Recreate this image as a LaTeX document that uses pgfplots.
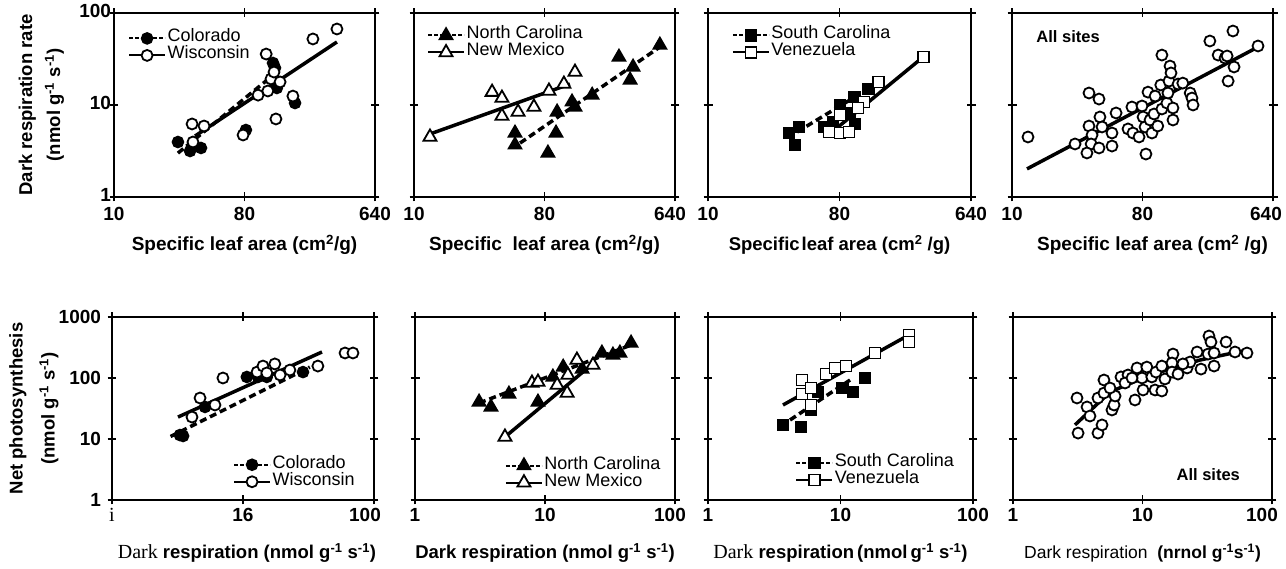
\documentclass[border=0pt]{standalone}
\usepackage{fontspec}
\usepackage{graphicx}
\usepackage{pgfplots}
\pgfplotsset{compat=1.18}
\setmainfont{Liberation Sans}
\newfontfamily\serifrm{Liberation Serif}
\newcommand\fs[1]{\fontsize{#1}{#1}\selectfont}
\newcommand\sps[1]{\textsuperscript{#1}}

% legend sample: a short line with the mark in its middle
\pgfplotsset{
  legend image code/.code={\draw[mark repeat=2, mark phase=2, #1]
      plot coordinates {(0pt,0pt) (18pt,0pt) (36pt,0pt)};},
}
\tikzset{
  fitsolid/.style={black, line width=3.5pt},
  fitdash/.style={black, line width=3.5pt, dash pattern=on 7pt off 4pt},
  legdash/.style={black, line width=2pt, dash pattern=on 4pt off 2pt},
  legsolid/.style={black, line width=2pt},
  mfill/.style={draw=black, fill=black, line width=1.6pt, solid},
  mopen/.style={draw=black, fill=white, line width=1.8pt, solid},
  legbox/.style={draw=none, fill=none, inner sep=0pt, outer sep=0pt, row sep=0pt,
    column sep=1.5pt, font=\fs{18}, nodes={inner sep=0pt, text height=12pt, text depth=5pt}},
}

\begin{document}
\begin{tikzpicture}
\useasboundingbox (0,0) rectangle (1286pt,569pt);
\fill[white] (0,0) rectangle (1286pt,569pt);

% ================= top row: respiration vs specific leaf area =================
\begin{axis}[at={(114pt,372pt)}, anchor=south west, scale only axis,
  width=261pt, height=184pt, clip=false,
  xmode=log, ymode=log, xmin=10, xmax=640, ymin=1, ymax=100,
  xminorticks=false, yminorticks=false,
  xtick={10,80,640}, xticklabels={10,80,640},
  ytick={1,10,100}, yticklabels={1,10,100},
  axis line style={line width=2pt},
  tick style={black, line width=1.6pt}, major tick length=9pt, tick align=center,
  ticklabel style={font=\fs{19}\bfseries},
  xticklabel style={yshift=-2pt},
  yticklabel style={xshift=5pt, yshift=2pt},
  ylabel={Dark respiration rate\\(nmol g\sps{-1} s\sps{-1})},
  ylabel style={at={(axis description cs:-0.278,0.5)}, anchor=center,
    align=center, font=\fontsize{18.5}{28}\selectfont\bfseries},
  xlabel={Specific leaf area (cm\sps{2}/g)},
  xlabel style={at={(axis description cs:0.5,-0.262)}, anchor=center, font=\fs{19}\bfseries},
  legend style={legbox, at={(axis description cs:0.054,0.908)}, anchor=north west},
  legend cell align=left]
\addlegendimage{legdash, mark=*, mark size=5.5pt, mark options={mfill}}
\addlegendentry{Colorado}
\addlegendimage{legsolid, mark=*, mark size=5.5pt, mark options={mopen}}
\addlegendentry{Wisconsin}
\addplot[fitdash, no marks, forget plot] coordinates {(27.7,3.0) (134,22.8)};
\addplot[fitsolid, no marks, forget plot] coordinates {(36.4,4.6) (349,48.4)};
\addplot[only marks, mark=*, mark size=5.5pt, mark options={mfill}, forget plot] coordinates {
 (27.7,3.96) (33.6,3.16) (40.0,3.41) (81.8,5.35) (126,28.6) (130,25.3) (134,15.3) (179,10.5)};
\addplot[only marks, mark=*, mark size=5.5pt, mark options={mopen}, forget plot] coordinates {
 (34.7,6.22) (42.0,5.91) (35.2,3.96) (78.2,4.72) (99.3,12.8) (116,14.2) (113,35.8)
 (122,19.2) (128,22.8) (141,17.8) (132,7.05) (173,12.5) (238,52.2) (349,67.0)};
\end{axis}

\begin{axis}[at={(414pt,372pt)}, anchor=south west, scale only axis,
  width=261pt, height=184pt, clip=false,
  xmode=log, ymode=log, xmin=10, xmax=640, ymin=1, ymax=100,
  xminorticks=false, yminorticks=false,
  xtick={10,80,640}, xticklabels={10,80,{\hspace*{-10pt}640}},
  ytick={1,10,100}, yticklabels={},
  axis line style={line width=2pt},
  tick style={black, line width=1.6pt}, major tick length=9pt, tick align=center,
  ticklabel style={font=\fs{19}\bfseries},
  xticklabel style={yshift=-2pt},
  xlabel={Specific\ \ leaf area (cm\sps{2}/g)},
  xlabel style={at={(axis description cs:0.5,-0.262)}, anchor=center, font=\fs{19}\bfseries},
  legend style={legbox, at={(axis description cs:0.05,0.924)}, anchor=north west},
  legend cell align=left]
\addlegendimage{legdash, mark=triangle*, mark size=7.5pt, mark options={mfill}}
\addlegendentry{North Carolina}
\addlegendimage{legsolid, mark=triangle*, mark size=7.5pt, mark options={mopen}}
\addlegendentry{New Mexico}
\addplot[fitsolid, no marks, forget plot] coordinates {(12.9,4.84) (120,16.9)};
\addplot[fitdash, no marks, forget plot] coordinates {(54.2,3.86) (503,42.7)};
\addplot[only marks, mark=triangle*, mark size=7.5pt, mark options={mopen}, forget plot] coordinates {
 (12.9,4.49) (34.7,13.8) (40.6,11.9) (40.6,7.59) (52.5,8.40) (67.6,9.51) (85.9,14.2)
 (109,16.9) (130,22.8)};
\addplot[only marks, mark=triangle*, mark size=7.5pt, mark options={mfill}, forget plot] coordinates {
 (50.0,4.96) (50.0,3.68) (84.5,3.01) (96.1,4.96) (97.8,8.40) (124,10.8) (130,9.51)
 (171,12.8) (262,33.2) (328,25.9) (313,18.7) (503,44.9)};
\end{axis}

\begin{axis}[at={(708pt,372pt)}, anchor=south west, scale only axis,
  width=263pt, height=184pt, clip=false,
  xmode=log, ymode=log, xmin=10, xmax=640, ymin=1, ymax=100,
  xminorticks=false, yminorticks=false,
  xtick={10,80,640}, xticklabels={10,80,640},
  ytick={1,10,100}, yticklabels={},
  axis line style={line width=2pt},
  tick style={black, line width=1.6pt}, major tick length=9pt, tick align=center,
  ticklabel style={font=\fs{19}\bfseries},
  xticklabel style={yshift=-2pt},
  xlabel={Specific\hspace{2pt}leaf area (cm\sps{2} /g)},
  xlabel style={at={(axis description cs:0.5,-0.262)}, anchor=center, font=\fs{18.5}\bfseries},
  legend style={legbox, at={(axis description cs:0.091,0.924)}, anchor=north west},
  legend cell align=left]
\addlegendimage{legdash, mark=square*, mark size=5.5pt, mark options={mfill}}
\addlegendentry{South Carolina}
\addlegendimage{legsolid, mark=square*, mark size=5.5pt, mark options={mopen}}
\addlegendentry{Venezuela}
\addplot[fitdash, no marks, forget plot] coordinates {(40.9,5.09) (136,16.1)};
\addplot[fitsolid, no marks, forget plot] coordinates {(71.1,5.09) (300,33.2)};
\addplot[only marks, mark=square*, mark size=5.5pt, mark options={mfill}, forget plot] coordinates {
 (35.9,4.96) (42.2,5.77) (39.7,3.68) (62.7,5.77) (80.7,10.0) (101,12.2) (102,6.22)
 (126,14.9) (94.4,8.19) (72.1,6.54)};
\addplot[only marks, mark=square*, mark size=5.5pt, mark options={mopen}, forget plot] coordinates {
 (300,33.2) (149,17.8) (118,10.8) (107,9.28) (80.7,7.79) (67.7,5.09) (80.7,4.96) (92.9,5.09)};
\end{axis}

\begin{axis}[at={(1012pt,372pt)}, anchor=south west, scale only axis,
  width=261pt, height=184pt, clip=false,
  xmode=log, ymode=log, xmin=10, xmax=640, ymin=1, ymax=100,
  xminorticks=false, yminorticks=false,
  xtick={10,80,640}, xticklabels={10,80,{\hspace*{-14pt}640}},
  ytick={1,10,100}, yticklabels={},
  axis line style={line width=2pt},
  tick style={black, line width=1.6pt}, major tick length=9pt, tick align=center,
  ticklabel style={font=\fs{19}\bfseries},
  xticklabel style={yshift=-2pt},
  xlabel={Specific leaf area (cm\sps{2} /g)},
  xlabel style={at={(axis description cs:0.5,-0.262)}, anchor=center, xshift=10pt,
    font=\fs{19}\bfseries}]
\node[anchor=west, font=\fs{16.5}\bfseries] at (axis description cs:0.08,0.87) {All sites};
\addplot[fitsolid, no marks] coordinates {(12.7,2.02) (504,42.7)};
\addplot[only marks, mark=*, mark size=5.5pt, mark options={mopen}] coordinates {
 (12.9,4.49) (27.3,3.77) (34.1,13.5) (40.0,11.6) (34.1,5.91) (40.6,7.41) (42.0,5.77)
 (35.8,4.72) (35.3,3.77) (33.0,3.01) (40.0,3.41) (49.2,4.96) (49.2,3.58) (52.5,8.19)
 (63.5,5.49) (67.6,9.51) (68.7,4.96) (75.7,4.49) (79.4,9.75) (80.7,7.41) (83.3,5.77)
 (87.3,13.8) (84.5,2.93) (93.0,4.96) (90.2,6.87) (102,5.91) (96.1,7.98) (97.8,12.5)
 (109,9.05) (107,16.5) (109,34.9) (118,10.5) (120,13.5) (122,18.2) (124,26.5)
 (126,22.3) (130,6.87) (130,9.28) (141,16.9) (152,17.3) (171,13.5) (176,11.9)
 (179,10.0) (234,49.6) (267,34.9) (298,32.4) (313,18.2) (308,34.1) (338,63.7)
 (344,25.9) (504,43.8)};
\end{axis}

% ================= bottom row: photosynthesis vs respiration =================
\begin{axis}[at={(112pt,69pt)}, anchor=south west, scale only axis,
  width=262pt, height=183pt, clip=false,
  xmode=log, ymode=log, xmin=1, xmax=100, ymin=1, ymax=1000,
  xminorticks=false, yminorticks=false,
  xtick={1,10,100}, xticklabels={{\serifrm\mdseries\fs{20}i},16,{\hspace*{-18pt}100}},
  ytick={1,10,100,1000}, yticklabels={1,10,100,1000},
  axis line style={line width=2pt},
  tick style={black, line width=1.6pt}, major tick length=9pt, tick align=center,
  ticklabel style={font=\fs{19}\bfseries},
  yticklabel style={xshift=-3pt},
  ylabel={Net photosynthesis\\(nmol g\sps{-1} s\sps{-1})},
  ylabel style={at={(axis description cs:-0.298,0.5)}, anchor=center,
    align=center, font=\fontsize{18.5}{32}\selectfont\bfseries},
  xlabel={{\serifrm\fs{20}Dark} \textbf{respiration (nmol g\sps{-1} s\sps{-1})}},
  xlabel style={at={(axis description cs:0.5,-0.29)}, anchor=center, xshift=4pt, font=\fs{18.5}},
  legend style={legbox, at={(axis description cs:0.462,0.239)}, anchor=north west},
  legend cell align=left]
\addlegendimage{legdash, mark=*, mark size=5.5pt, mark options={mfill}}
\addlegendentry{Colorado}
\addlegendimage{legsolid, mark=*, mark size=5.5pt, mark options={mopen}}
\addlegendentry{Wisconsin}
\addplot[fitdash, no marks, forget plot] coordinates {(2.8,11.0) (32.4,151)};
\addplot[fitsolid, no marks, forget plot] coordinates {(3.19,22.9) (40.1,267)};
\addplot[only marks, mark=*, mark size=5.5pt, mark options={mfill}, forget plot] coordinates {
 (3.30,11.6) (3.49,11.2) (5.13,33.5) (10.7,104) (13.0,104) (15.2,104) (28.7,125)};
\addplot[only marks, mark=*, mark size=5.5pt, mark options={mopen}, forget plot] coordinates {
 (4.08,22.9) (4.70,47.0) (6.11,36.1) (7.03,100) (12.8,125) (14.2,157) (17.5,170)
 (15.2,121) (19.2,112) (22.8,135) (37.3,157) (60.1,257) (69.1,257)};
\end{axis}

\begin{axis}[at={(415pt,69pt)}, anchor=south west, scale only axis,
  width=260pt, height=183pt, clip=false,
  xmode=log, ymode=log, xmin=1, xmax=100, ymin=1, ymax=1000,
  xminorticks=false, yminorticks=false,
  xtick={1,10,100}, xticklabels={1,10,{\hspace*{-10pt}100}},
  ytick={1,10,100,1000}, yticklabels={},
  axis line style={line width=2pt},
  tick style={black, line width=1.6pt}, major tick length=9pt, tick align=center,
  ticklabel style={font=\fs{19}\bfseries},
  xlabel={Dark respiration (nmol g\sps{-1} s\sps{-1})},
  xlabel style={at={(axis description cs:0.5,-0.29)}, anchor=center, font=\fs{18.5}\bfseries},
  legend style={legbox, at={(axis description cs:0.346,0.234)}, anchor=north west},
  legend cell align=left]
\addlegendimage{legdash, mark=triangle*, mark size=7.5pt, mark options={mfill}}
\addlegendentry{North Carolina}
\addlegendimage{legsolid, mark=triangle*, mark size=7.5pt, mark options={mopen}}
\addlegendentry{New Mexico}
\addplot[fitdash, no marks, forget plot] coordinates {(3.11,38.9) (45.9,347)};
\addplot[fitsolid, no marks, forget plot] coordinates {(4.92,10.8) (24.2,183)};
\addplot[only marks, mark=triangle*, mark size=7.5pt, mark options={mfill}, forget plot] coordinates {
 (3.11,40.4) (3.84,33.5) (5.28,54.7) (8.83,40.4) (11.5,104) (13.8,151) (19.3,140)
 (27.4,257) (33.3,238) (37.7,257) (45.9,375)};
\addplot[only marks, mark=triangle*, mark size=7.5pt, mark options={mopen}, forget plot] coordinates {
 (4.92,10.8) (7.94,82.8) (8.83,85.9) (12.4,76.7) (14.8,56.7) (15.0,112) (17.6,197) (23.4,163)};
\end{axis}

\begin{axis}[at={(708pt,69pt)}, anchor=south west, scale only axis,
  width=265pt, height=183pt, clip=false,
  xmode=log, ymode=log, xmin=1, xmax=100, ymin=1, ymax=1000,
  xminorticks=false, yminorticks=false,
  xtick={1,10,100}, xticklabels={1,10,100},
  ytick={1,10,100,1000}, yticklabels={},
  axis line style={line width=2pt},
  tick style={black, line width=1.6pt}, major tick length=9pt, tick align=center,
  ticklabel style={font=\fs{19}\bfseries},
  xlabel={{\serifrm\fs{20}Dark} \textbf{respiration\,(nmol\,g\sps{-1} s\sps{-1})}},
  xlabel style={at={(axis description cs:0.5,-0.29)}, anchor=center, font=\fs{18.5}},
  legend style={legbox, at={(axis description cs:0.33,0.249)}, anchor=north west},
  legend cell align=left]
\addlegendimage{legdash, mark=square*, mark size=5.5pt, mark options={mfill}}
\addlegendentry{South Carolina}
\addlegendimage{legsolid, mark=square*, mark size=5.5pt, mark options={mopen}}
\addlegendentry{Venezuela}
\addplot[fitsolid, no marks, forget plot] coordinates {(3.68,36.1) (31.8,488)};
\addplot[fitdash, no marks, forget plot] coordinates {(4.16,20.5) (11.8,92.7)};
\addplot[only marks, mark=square*, mark size=5.5pt, mark options={mfill}, forget plot] coordinates {
 (3.68,17.0) (5.03,15.7) (5.99,29.9) (6.76,58.9) (10.3,68.5) (12.4,58.9) (15.3,100)};
\addplot[only marks, mark=square*, mark size=5.5pt, mark options={mopen}, forget plot] coordinates {
 (5.12,92.7) (5.12,54.7) (5.99,68.5) (5.99,36.1) (7.77,116) (9.09,146) (11.0,157)
 (18.2,257) (32.9,507) (32.9,389)};
\end{axis}

\begin{axis}[at={(1013pt,69pt)}, anchor=south west, scale only axis,
  width=259pt, height=183pt, clip=false,
  xmode=log, ymode=log, xmin=1, xmax=100, ymin=1, ymax=1000,
  xminorticks=false, yminorticks=false,
  xtick={1,10,100}, xticklabels={1,10,{\hspace*{-20pt}100}},
  ytick={1,10,100,1000}, yticklabels={},
  axis line style={line width=2pt},
  tick style={black, line width=1.6pt}, major tick length=9pt, tick align=center,
  ticklabel style={font=\fs{19}\bfseries},
  xlabel={Dark\ respiration\ \ \textbf{(nrnol g\sps{-1}s\sps{-1})}},
  xlabel style={at={(axis description cs:0.5,-0.29)}, anchor=center, font=\fs{17.5}}]
\node[anchor=west, font=\fs{16.5}\bfseries] at (axis description cs:0.618,0.137) {All sites};
\addplot[fitsolid, no marks] coordinates {(3.01,17.0) (5.61,58.9) (11.4,112) (27.8,197) (64.1,288)};
\addplot[only marks, mark=*, mark size=5.5pt, mark options={mopen}] coordinates {
 (3.12,47.0) (3.73,33.5) (3.93,23.8) (3.18,12.5) (4.53,12.5) (4.87,17.0) (4.53,47.0)
 (5.04,92.7) (5.04,56.7) (5.81,29.9) (6.03,36.1) (6.14,50.7) (5.61,68.5) (6.82,104)
 (7.73,112) (7.33,82.8) (8.75,43.6) (9.07,146) (10.1,63.6) (9.91,100) (10.8,151)
 (11.8,104) (12.7,125) (12.5,63.6) (14.1,61.2) (14.1,157) (14.9,96.3) (17.2,247)
 (16.9,176) (16.9,125) (18.8,116) (22.1,146) (23.3,183) (26.4,267) (28.3,140)
 (32.1,247) (32.6,488) (33.8,389) (35.7,257) (35.7,157) (44.2,389) (51.8,267)
 (64.1,257) (8.30,100) (20.5,170)};
\end{axis}
\end{tikzpicture}
\end{document}
